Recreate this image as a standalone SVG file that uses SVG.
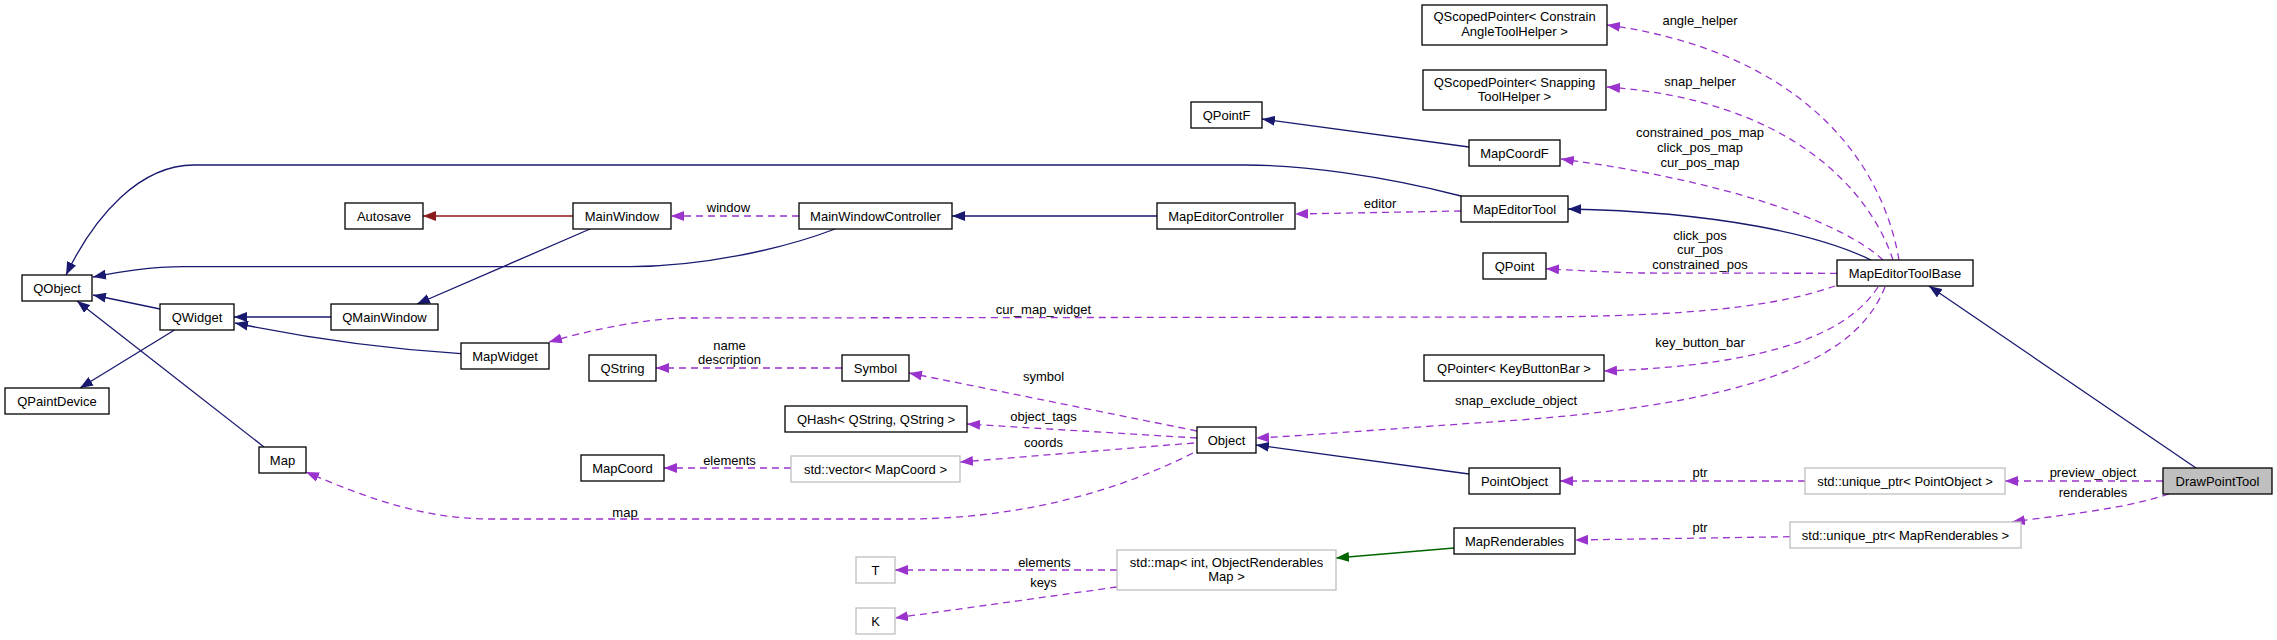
<svg xmlns="http://www.w3.org/2000/svg" width="2277" height="640" viewBox="0 0 2277 640">
<style>
.n rect{fill:#fff;stroke:#000;stroke-width:1.3}
.g rect{fill:#fff;stroke:#bfbfbf;stroke-width:1.3}
.sel rect{fill:#bfbfbf;stroke:#000;stroke-width:1.3}
text{font-family:"Liberation Sans",Arial,sans-serif;font-size:13px;fill:#000;text-anchor:middle}
.e path{fill:none;stroke-width:1.3}
.b{stroke:#191970;marker-end:url(#ab)}
.r{stroke:#8b1a1a;marker-end:url(#ar)}
.gr{stroke:#006400;marker-end:url(#ag)}
.p{stroke:#9a32cd;stroke-dasharray:7,5;marker-end:url(#ap)}
</style>
<defs>
<marker id="ab" markerUnits="userSpaceOnUse" markerWidth="13" markerHeight="10" viewBox="0 0 13 10" refX="13" refY="5" orient="auto"><path d="M0,0 L13,5 L0,10 z" fill="#191970" stroke="none"/></marker>
<marker id="ar" markerUnits="userSpaceOnUse" markerWidth="13" markerHeight="10" viewBox="0 0 13 10" refX="13" refY="5" orient="auto"><path d="M0,0 L13,5 L0,10 z" fill="#8b1a1a" stroke="none"/></marker>
<marker id="ag" markerUnits="userSpaceOnUse" markerWidth="13" markerHeight="10" viewBox="0 0 13 10" refX="13" refY="5" orient="auto"><path d="M0,0 L13,5 L0,10 z" fill="#006400" stroke="none"/></marker>
<marker id="ap" markerUnits="userSpaceOnUse" markerWidth="13" markerHeight="10" viewBox="0 0 13 10" refX="13" refY="5" orient="auto"><path d="M0,0 L13,5 L0,10 z" fill="#9a32cd" stroke="none"/></marker>
</defs>
<rect width="2277" height="640" fill="#fff"/>
<g id="edges" class="e">
<path class="b" d="M160,309 L93,295"/>
<path class="b" d="M174.5,330 L80,388"/>
<path class="b" d="M331,317 L234,317"/>
<path class="b" d="M590,229 L417,304"/>
<path class="b" d="M461,353.7 C420,351 340,345 235,323"/>
<path class="b" d="M264,447 L77,301"/>
<path class="b" d="M835,229 C780,250 700,266.7 630,266.7 L184,266.7 C150,266.7 120,272 93,277"/>
<path class="b" d="M1461,196 C1380,175 1300,165 1245,165 L194,165 C140,165 95,215 66,275"/>
<path class="b" d="M1469,147 L1262,119"/>
<path class="b" d="M1157,216 L952,216"/>
<path class="b" d="M1871,260 C1820,235 1720,212 1568,209"/>
<path class="b" d="M2196,468 L1929,286"/>
<path class="b" d="M1469,474 L1256,445"/>
<path class="r" d="M573,216 L423,216"/>
<path class="gr" d="M1454,548 L1336,558"/>
<path class="p" d="M1899,260 C1880,150 1790,50 1607,25"/>
<path class="p" d="M1893,260 C1870,190 1790,100 1607,87"/>
<path class="p" d="M1883,260 C1840,220 1720,180 1561,159"/>
<path class="p" d="M1837,273.3 L1640,273 C1600,272 1570,270 1546,268.7"/>
<path class="p" d="M1835,286 C1780,305 1700,317 1517,317 L680,318 C640,320 590,330 549,342"/>
<path class="p" d="M1878,287 C1850,330 1780,365 1604,371"/>
<path class="p" d="M1885,287 C1860,350 1780,400 1520,420 C1400,428 1300,436 1256,438"/>
<path class="p" d="M2163,481 L2005,481"/>
<path class="p" d="M2169,494 C2120,510 2060,515 2012,522"/>
<path class="p" d="M1805,481 L1560,481"/>
<path class="p" d="M1790,536.7 L1575,540"/>
<path class="p" d="M1197,431 L909,373"/>
<path class="p" d="M1197,438 L967,424"/>
<path class="p" d="M1194,443 L960,462"/>
<path class="p" d="M1193,453 C1100,500 1000,519 905,519 L490,519 C420,519 360,495 306,472"/>
<path class="p" d="M842,368 L656,368"/>
<path class="p" d="M791,468 L664,468"/>
<path class="p" d="M1117,570 L895,570"/>
<path class="p" d="M1117,587 L895,618"/>
<path class="p" d="M799,216 L671,216"/>
<path class="p" d="M1461,211 L1295,214"/>
<text x="1700" y="24.5">angle_helper</text>
<text x="1700" y="85.5">snap_helper</text>
<text x="1700" y="137">constrained_pos_map</text>
<text x="1700" y="152">click_pos_map</text>
<text x="1700" y="167">cur_pos_map</text>
<text x="1700" y="239.5">click_pos</text>
<text x="1700" y="253.5">cur_pos</text>
<text x="1700" y="268.5">constrained_pos</text>
<text x="1043.5" y="313.5">cur_map_widget</text>
<text x="1700" y="347">key_button_bar</text>
<text x="1516" y="405">snap_exclude_object</text>
<text x="2093" y="477">preview_object</text>
<text x="2093" y="497">renderables</text>
<text x="1700" y="477">ptr</text>
<text x="1700" y="532">ptr</text>
<text x="1043.5" y="381">symbol</text>
<text x="1043.5" y="421">object_tags</text>
<text x="1043.5" y="447">coords</text>
<text x="625" y="516.5">map</text>
<text x="729.5" y="349.5">name</text>
<text x="729.5" y="364">description</text>
<text x="729.5" y="464.5">elements</text>
<text x="1044.5" y="567">elements</text>
<text x="1043.5" y="587">keys</text>
<text x="728.5" y="212">window</text>
<text x="1380" y="208">editor</text>
</g>
<g id="QObject" class="n"><rect x="22" y="275" width="70" height="26"/><text x="57" y="292.5">QObject</text></g>
<g id="Autosave" class="n"><rect x="345" y="203" width="78" height="26"/><text x="384" y="220.5">Autosave</text></g>
<g id="MainWindow" class="n"><rect x="573" y="203" width="98" height="26"/><text x="622" y="220.5">MainWindow</text></g>
<g id="QWidget" class="n"><rect x="160" y="304" width="74" height="26"/><text x="197" y="321.5">QWidget</text></g>
<g id="QMainWindow" class="n"><rect x="331" y="304" width="107" height="26"/><text x="384.5" y="321.5">QMainWindow</text></g>
<g id="QPaintDevice" class="n"><rect x="5" y="388" width="104" height="26"/><text x="57" y="405.5">QPaintDevice</text></g>
<g id="Map" class="n"><rect x="259" y="447" width="47" height="26"/><text x="282.5" y="464.5">Map</text></g>
<g id="MapWidget" class="n"><rect x="461" y="343" width="88" height="26"/><text x="505" y="360.5">MapWidget</text></g>
<g id="QString" class="n"><rect x="589" y="355" width="67" height="26"/><text x="622.5" y="372.5">QString</text></g>
<g id="MapCoord" class="n"><rect x="581" y="455" width="83" height="26"/><text x="622.5" y="472.5">MapCoord</text></g>
<g id="QScopedPointerConstrain" class="n"><rect x="1422" y="5" width="185" height="40"/><text x="1514.5" y="21">QScopedPointer&lt; Constrain</text><text x="1514.5" y="36">AngleToolHelper &gt;</text></g>
<g id="QScopedPointerSnapping" class="n"><rect x="1423" y="70" width="183" height="40"/><text x="1514.5" y="87">QScopedPointer&lt; Snapping</text><text x="1514.5" y="101">ToolHelper &gt;</text></g>
<g id="QPointF" class="n"><rect x="1191" y="102" width="71" height="26"/><text x="1226.5" y="119.5">QPointF</text></g>
<g id="MapCoordF" class="n"><rect x="1469" y="140" width="91" height="26"/><text x="1514.5" y="157.5">MapCoordF</text></g>
<g id="MapEditorTool" class="n"><rect x="1461" y="196" width="107" height="26"/><text x="1514.5" y="213.5">MapEditorTool</text></g>
<g id="MainWindowController" class="n"><rect x="799" y="203" width="153" height="26"/><text x="875.5" y="220.5">MainWindowController</text></g>
<g id="MapEditorController" class="n"><rect x="1157" y="203" width="138" height="26"/><text x="1226" y="220.5">MapEditorController</text></g>
<g id="QPoint" class="n"><rect x="1483" y="253" width="63" height="26"/><text x="1514.5" y="270.5">QPoint</text></g>
<g id="MapEditorToolBase" class="n"><rect x="1837" y="260" width="136" height="26"/><text x="1905" y="277.5">MapEditorToolBase</text></g>
<g id="Symbol" class="n"><rect x="842" y="355" width="67" height="26"/><text x="875.5" y="372.5">Symbol</text></g>
<g id="QHash" class="n"><rect x="785" y="406" width="182" height="26"/><text x="876" y="423.5">QHash&lt; QString, QString &gt;</text></g>
<g id="stdvector" class="g"><rect x="791" y="456" width="169" height="26"/><text x="875.5" y="473.5">std::vector&lt; MapCoord &gt;</text></g>
<g id="Object" class="n"><rect x="1197" y="427" width="59" height="26"/><text x="1226.5" y="444.5">Object</text></g>
<g id="PointObject" class="n"><rect x="1469" y="468" width="91" height="26"/><text x="1514.5" y="485.5">PointObject</text></g>
<g id="MapRenderables" class="n"><rect x="1454" y="528" width="121" height="26"/><text x="1514.5" y="545.5">MapRenderables</text></g>
<g id="QPointerKeyButtonBar" class="n"><rect x="1424" y="355" width="180" height="26"/><text x="1514" y="372.5">QPointer&lt; KeyButtonBar &gt;</text></g>
<g id="T" class="g"><rect x="856" y="557" width="39" height="26"/><text x="875.5" y="574.5">T</text></g>
<g id="K" class="g"><rect x="856" y="608" width="39" height="26"/><text x="875.5" y="625.5">K</text></g>
<g id="stdmap" class="g"><rect x="1117" y="550" width="219" height="40"/><text x="1226.5" y="567">std::map&lt; int, ObjectRenderables</text><text x="1226.5" y="581">Map &gt;</text></g>
<g id="uniquePointObject" class="g"><rect x="1805" y="468" width="200" height="26"/><text x="1905" y="485.5">std::unique_ptr&lt; PointObject &gt;</text></g>
<g id="uniqueMapRenderables" class="g"><rect x="1790" y="522" width="231" height="26"/><text x="1905.5" y="539.5">std::unique_ptr&lt; MapRenderables &gt;</text></g>
<g id="DrawPointTool" class="sel"><rect x="2163" y="468" width="109" height="26"/><text x="2217.5" y="485.5">DrawPointTool</text></g>
</svg>
